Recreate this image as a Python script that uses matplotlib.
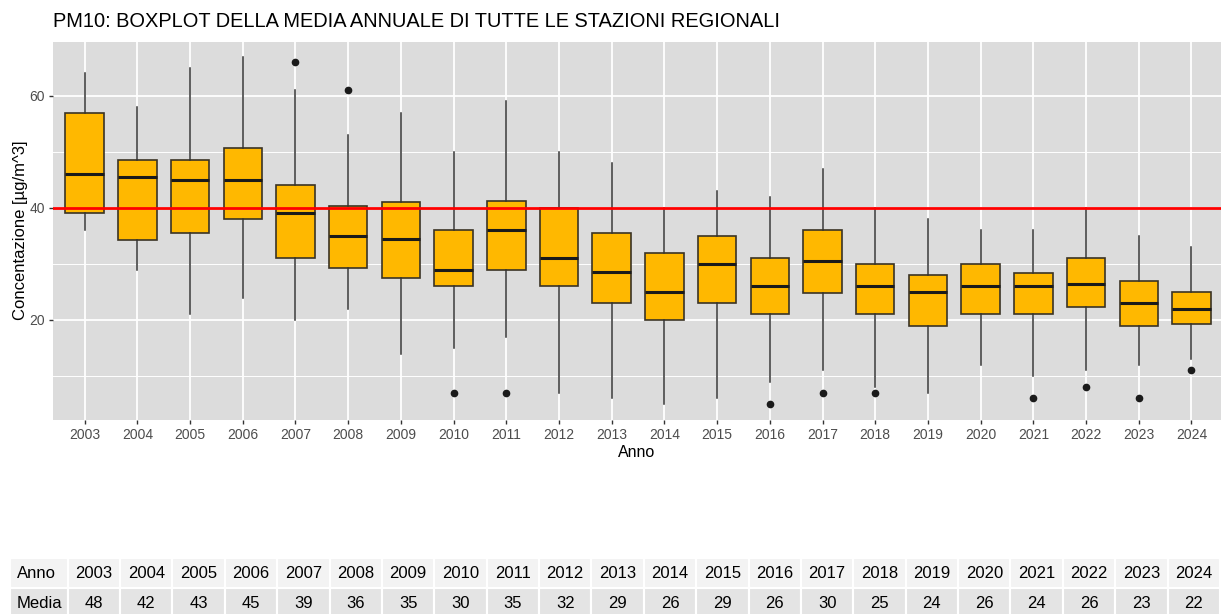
# PM10 boxplot of annual means, all regional stations, with summary table
import matplotlib.pyplot as plt
from matplotlib.patches import Rectangle

plt.rcParams['font.family'] = ['Liberation Sans', 'DejaVu Sans']

# Data
years = ['2003', '2004', '2005', '2006', '2007', '2008', '2009', '2010', '2011', '2012', '2013',
         '2014', '2015', '2016', '2017', '2018', '2019', '2020', '2021', '2022', '2023', '2024']
whis_lo = [36, 29, 21, 24, 20, 22, 14, 15, 17, 7, 6, 5, 6, 9, 11, 8, 7, 12, 10, 11, 12, 13]
q1 = [39.1, 34.3, 35.5, 38, 31, 29.3, 27.4, 26.1, 29, 26, 23, 20, 23, 21, 24.8, 21, 19, 21, 21, 22.3, 19, 19.3]
median = [46, 45.5, 45, 45, 39, 35, 34.4, 29, 36, 31, 28.5, 25, 30, 26, 30.5, 26, 25, 26, 26, 26.4, 23, 22]
q3 = [57, 48.5, 48.5, 50.7, 44, 40.4, 41, 36, 41.3, 40, 35.5, 32, 35, 31, 36.1, 30, 28, 30, 28.3, 31, 27, 25]
whis_hi = [64, 58, 65, 67, 61, 53, 57, 50, 59, 50, 48, 40, 43, 42, 47, 40, 38, 36, 36, 40, 35, 33]
outliers = [[], [], [], [], [66], [61], [], [7], [7], [], [], [], [], [5], [7], [7], [], [], [6], [8], [6], [11]]
means = [48, 42, 43, 45, 39, 36, 35, 30, 35, 32, 29, 26, 29, 26, 30, 25, 24, 26, 24, 26, 23, 22]
limit = 40

W, H = 1221, 614
fig = plt.figure(figsize=(W / 100, H / 100), dpi=100)

# Boxplot panel
ax = fig.add_axes([53 / W, 1 - 420 / H, 1 - 53 / W, (420 - 41.5) / H])
stats = []
for i in range(len(years)):
    stats.append(dict(whislo=whis_lo[i], q1=q1[i], med=median[i], q3=q3[i],
                      whishi=whis_hi[i], fliers=outliers[i]))
pos = list(range(1, len(years) + 1))
ax.bxp(stats, positions=pos, widths=0.73, patch_artist=True, showcaps=False,
       boxprops=dict(facecolor='#FFB800', edgecolor='#3a3325', linewidth=1.2),
       medianprops=dict(color='#1a1a1a', linewidth=2.2),
       whiskerprops=dict(color='#333333', linewidth=1.1),
       flierprops=dict(marker='o', markerfacecolor='#1a1a1a', markeredgecolor='#1a1a1a',
                       markersize=4.5))
ax.axhline(limit, color='red', lw=2, zorder=5)

ax.set_xlim(0.4, 22.56)
ax.set_ylim(2.14, 69.7)
ax.set_xticks(pos)
ax.set_xticklabels(years)
ax.set_yticks([20, 40, 60])
ax.set_yticks([10, 30, 50], minor=True)
ax.set_facecolor('#DCDCDC')
ax.set_axisbelow(True)
ax.grid(True, which='major', color='white', lw=1.3)
ax.grid(True, which='minor', axis='y', color='white', lw=0.7)
for s in ax.spines.values():
    s.set_visible(False)
ax.tick_params(which='major', length=3, width=1, color='#333333', labelcolor='#4D4D4D',
               labelsize=10, pad=3)
ax.tick_params(which='minor', length=0)
ax.set_xlabel('Anno', fontsize=11.5, labelpad=2)
ax.set_ylabel('Concentazione [µg/m^3]', fontsize=12, labelpad=1)

fig.text(53 / W, 1 - 21.5 / H, 'PM10: BOXPLOT DELLA MEDIA ANNUALE DI TUTTE LE STAZIONI REGIONALI',
         fontsize=14.4, va='center', ha='left')

# Summary table
tax = fig.add_axes([10 / W, 1 - 618 / H, 1210 / W, 60 / H])
first_w = 1.1
tax.set_xlim(0, first_w + len(years))
tax.set_ylim(0, 2)
tax.axis('off')
row_bg = ['#E4E4E4', '#F3F3F3']
tax.add_patch(Rectangle((0, 1), first_w, 1, facecolor=row_bg[1], edgecolor='white', lw=1.5))
tax.add_patch(Rectangle((0, 0), first_w, 1, facecolor=row_bg[0], edgecolor='white', lw=1.5))
tax.text(0.13, 1.5, 'Anno', fontsize=12, va='center', ha='left')
tax.text(0.13, 0.5, 'Media', fontsize=12, va='center', ha='left')
for i in range(len(years)):
    x0 = first_w + i
    tax.add_patch(Rectangle((x0, 1), 1, 1, facecolor=row_bg[1], edgecolor='white', lw=1.5))
    tax.add_patch(Rectangle((x0, 0), 1, 1, facecolor=row_bg[0], edgecolor='white', lw=1.5))
    tax.text(x0 + 0.5, 1.5, years[i], fontsize=12, va='center', ha='center')
    tax.text(x0 + 0.5, 0.5, str(means[i]), fontsize=12, va='center', ha='center')

fig.savefig('out.png', dpi=100)
